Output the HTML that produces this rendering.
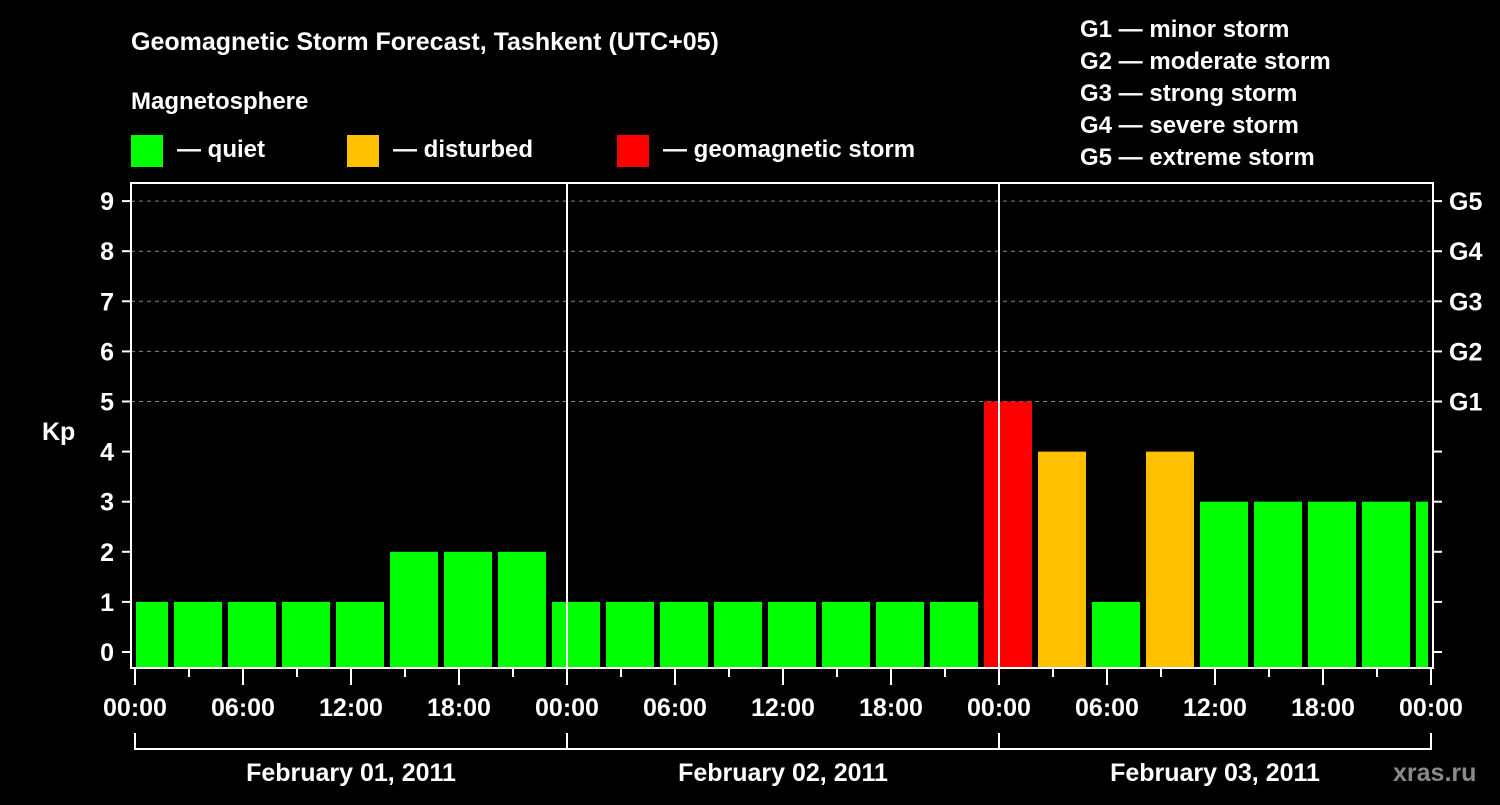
<!DOCTYPE html>
<html><head><meta charset="utf-8"><style>
body{margin:0;background:#000;width:1500px;height:800px;overflow:hidden}
svg text{font-family:"Liberation Sans",Arial,sans-serif;font-weight:bold;fill:#fff}
</style></head><body>
<svg id="c" width="1500" height="800" viewBox="0 0 1500 800">
<text x="131" y="50" font-size="25">Geomagnetic Storm Forecast, Tashkent (UTC+05)</text>
<text x="131" y="109" font-size="24">Magnetosphere</text>
<rect x="131" y="135" width="32" height="32" fill="#00ff00"/>
<text x="177" y="157" font-size="24">— quiet</text>
<rect x="347" y="135" width="32" height="32" fill="#ffc000"/>
<text x="393" y="157" font-size="24">— disturbed</text>
<rect x="617" y="135" width="32" height="32" fill="#ff0000"/>
<text x="663" y="157" font-size="24">— geomagnetic storm</text>
<g font-size="24">
<text x="1080" y="37">G1 — minor storm</text>
<text x="1080" y="69">G2 — moderate storm</text>
<text x="1080" y="101">G3 — strong storm</text>
<text x="1080" y="133">G4 — severe storm</text>
<text x="1080" y="165">G5 — extreme storm</text>
</g>
<text x="42" y="440" font-size="25">Kp</text>
<text x="1393" y="781" font-size="25" fill="#999" style="fill:#8a8a8a">xras.ru</text>
<g id="plot"></g>
</svg>
<script>
const kpValues=[1,1,1,1,1,2,2,2, 1,1,1,1,1,1,1,1, 5,4,1,4,3,3,3,3,3];
const yTicks=[0,1,2,3,4,5,6,7,8,9];
const gLabels=["G1","G2","G3","G4","G5"];
const gLevels=[5,6,7,8,9];
const xTickLabels=["00:00","06:00","12:00","18:00","00:00","06:00","12:00","18:00","00:00","06:00","12:00","18:00","00:00"];
const dayLabels=["February 01, 2011","February 02, 2011","February 03, 2011"];

const L=131,R=1433,T=183,B=668,X0=135,HPX=18;
const x=h=>X0+h*HPX;
const y=v=>652-v*50.1;
const NS="http://www.w3.org/2000/svg";
const g=document.getElementById('plot');
function mk(t,a,p){const e=document.createElementNS(NS,t);for(const k in a)e.setAttribute(k,a[k]);(p||g).appendChild(e);return e;}
// gridlines
gLevels.forEach((v,i)=>{
 const l=mk('line',{x1:L,x2:R,y1:y(v),y2:y(v),stroke:'#888','stroke-dasharray':'4,4','stroke-width':1});
 
 
 const t=mk('text',{x:1449,y:y(v)+9,'font-size':25});t.textContent=gLabels[i];
 
 
});
// bars
kpValues.forEach((v,k)=>{
 const c=3*k+0.5;let x1=x(c)-24,x2=x(c)+24;x1=Math.max(x1,136);x2=Math.min(x2,1428);
 const col=v>=5?'#ff0000':(v>=4?'#ffc000':'#00ff00');
 const r=mk('rect',{x:x1,y:y(v),width:x2-x1,height:B-y(v),fill:col});
 
 
});
// day separators
[24,48].forEach(h=>{const l=mk('line',{x1:x(h),x2:x(h),y1:T,y2:B,stroke:'#fff','stroke-width':2});
 
 });
// frame
const f=mk('rect',{x:L,y:T,width:R-L,height:B-T,fill:'none',stroke:'#fff','stroke-width':2});


// y ticks
yTicks.forEach(v=>{
 mk('line',{x1:L-9,x2:L,y1:y(v),y2:y(v),stroke:'#fff','stroke-width':2});
 mk('line',{x1:R,x2:R+9,y1:y(v),y2:y(v),stroke:'#fff','stroke-width':2});
 const t=mk('text',{x:114,y:y(v)+9,'font-size':25,'text-anchor':'end'});t.textContent=v;
 
 
});
// x ticks
for(let h=0;h<=72;h+=3){const maj=h%6==0;mk('line',{x1:x(h),x2:x(h),y1:B,y2:B+(maj?17:9),stroke:'#fff','stroke-width':2});}
xTickLabels.forEach((s,i)=>{const t=mk('text',{x:x(i*6),y:716,'font-size':25,'text-anchor':'middle'});t.textContent=s;
 
 });
// day brackets
mk('line',{x1:x(0),x2:x(72),y1:749,y2:749,stroke:'#fff','stroke-width':2});
[0,24,48,72].forEach(h=>mk('line',{x1:x(h),x2:x(h),y1:733,y2:750,stroke:'#fff','stroke-width':2}));
dayLabels.forEach((s,i)=>{const t=mk('text',{x:x(i*24+12),y:781,'font-size':25,'text-anchor':'middle'});t.textContent=s;
 
 });
</script>
</body></html>
